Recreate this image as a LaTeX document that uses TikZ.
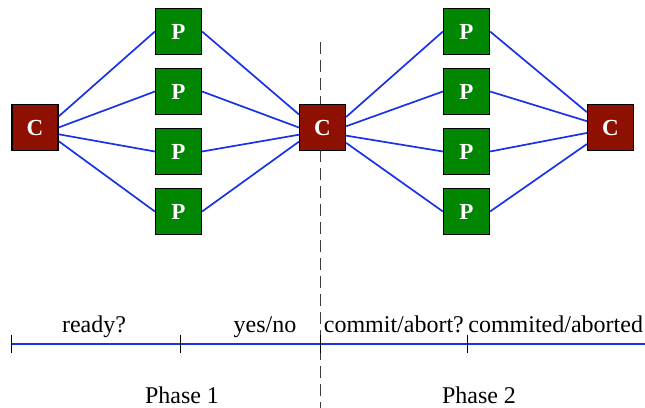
\documentclass[tikz,border=0pt]{standalone}
\usepackage{fontspec}
\setmainfont{Liberation Serif}
\definecolor{coordred}{RGB}{142,16,0}
\definecolor{partgreen}{RGB}{0,134,0}
\definecolor{msgblue}{RGB}{25,50,230}
\definecolor{phasegray}{RGB}{60,60,60}
\begin{document}
\begin{tikzpicture}[x=0.5pt, y=-0.5pt,
        every node/.style={font=\fontsize{12}{14}\selectfont},
        coord/.style={draw=black, fill=coordred, text=white, line width=0.6pt,
            minimum size=23pt, inner sep=0pt, font=\fontsize{11.5}{13}\selectfont\bfseries},
        part/.style={coord, fill=partgreen},
        msg/.style={draw=msgblue, line width=0.85pt},
        timeline/.style={draw=msgblue, line width=1pt},
        tickmark/.style={draw=black, line width=0.55pt},
        lbl/.style={anchor=base, inner sep=0pt}]
        \useasboundingbox (0,0) rectangle (645,408);

        \coordinate (top) at (320.5,42);
        \coordinate (bottom) at (320.5,408);
        \draw [phasegray, line width=0.75pt, dash pattern=on 6pt off 3pt] (top) -- (bottom);

        \node [coord] (c1) at (35,127.5) {C};
        \node [coord] (c2) at (322.5,127.5) {C};
        \node [coord] (c3) at (610.5,127.5) {C};
        \foreach \i/\y in {1/31.5,2/91.5,3/151.5,4/211.5} {
            \node [part] (p\i) at (178.5,\y) {P};
            \node [part] (q\i) at (466.5,\y) {P};
        }

        \foreach \i/\a in {1/25,2/0,3/-16,4/-30}
            \draw [msg] (c1.\a) -- (p\i.west);
        \foreach \i/\a in {1/151,2/180,3/-163,4/-149}
            \draw [msg] (p\i.east) -- (c2.\a);
        \foreach \i/\a in {1/24,2/3,3/-19,4/-33}
            \draw [msg] (c2.\a) -- (q\i.west);
        \foreach \i/\a in {1/147,2/165,3/-167,4/-145}
            \draw [msg] (q\i.east) -- (c3.\a);

        \coordinate (t0) at (11.5,343.5);
        \coordinate (t1) at (180.5,343.5);
        \coordinate (t2) at (320.5,343.5);
        \coordinate (t3) at (467.5,343.5);
        \coordinate (tend) at (645,343.5);
        \draw [timeline] (t0) -- (tend);
        \foreach \t in {t0,t1,t2,t3}
            \draw [tickmark] ([yshift=4.5pt]\t) -- ([yshift=-4.5pt]\t);

        \node [lbl] (ready) at (94,332) {ready?};
        \node [lbl] (yesno) at (265,332) {yes/no};
        \node [lbl, anchor=base west] (commit) at (323.5,332) {commit/abort?};
        \node [lbl, anchor=base west] (done) at (468,332) {commited/aborted};
        \node [lbl] (phase1) at (182,403) {Phase 1};
        \node [lbl] (phase2) at (479,403) {Phase 2};
    \end{tikzpicture}
\end{document}
